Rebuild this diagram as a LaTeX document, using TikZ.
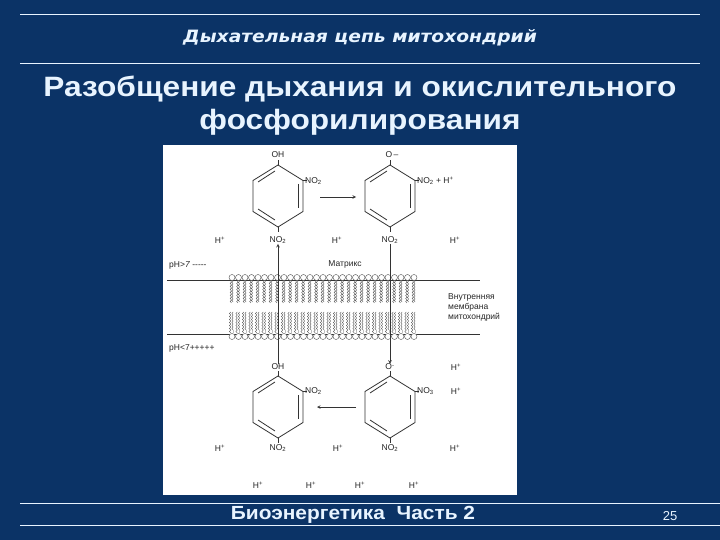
\documentclass[tikz,border=0pt]{standalone}
\usepackage{fontspec}
\setmainfont{Liberation Sans}
\newfontfamily\hb{Liberation Sans Bold}
\newfontfamily\hbi{DejaVu Sans Bold Oblique}
\usetikzlibrary{decorations.pathmorphing}
\definecolor{bg}{HTML}{0B3366}
\definecolor{fg}{HTML}{E8F4FF}
\newcommand{\Hp}{H\textsuperscript{+}}
\newcommand{\Nt}{NO\textsubscript{2}}
\begin{document}
\begin{tikzpicture}[x=1pt,y=-1pt,
  lbl/.style={font=\fontsize{8.5}{10}\selectfont,inner sep=0pt,text=black!85},
  ring/.style={draw=black!80,line width=0.8pt},
  arr/.style={draw=black!80,line width=0.6pt,-stealth}]
\fill[bg] (0,0) rectangle (720,540);
\useasboundingbox (0,0) rectangle (720,540);
\draw[fg,line width=0.8pt] (20,14) -- (700,14) (20,63) -- (700,63);
\draw[fg,line width=0.8pt] (20,503) -- (720,503) (20,525) -- (720,525);
\node[text=fg,font=\fontsize{17}{18}\selectfont\hbi,xscale=1.1] (hdr) at (360,38) {Дыхательная цепь митохондрий};
\node[text=fg,font=\fontsize{28}{33}\selectfont\hb,align=center,xscale=1.13] (ttl) at (360,106) {Разобщение дыхания и окислительного\\фосфорилирования};
\node[text=fg,font=\fontsize{19}{19}\selectfont\hb,xscale=1.1] (ftr) at (353,515) {Биоэнергетика\ \ Часть 2};
\node[text=fg,font=\fontsize{13}{14}\selectfont] (pg) at (670,516) {25};
% figure
\fill[white] (163,145) rectangle (517,495);
% membrane
\draw[black!80,line width=0.7pt] (167,280) -- (480,280) (167,334) -- (480,334);
\foreach \i in {0,...,28}{
  \pgfmathsetmacro\xx{232+6.5*\i}
  \draw[black!70,line width=0.4pt,fill=white] (\xx,277.5) circle (3);
  \draw[black!70,line width=0.4pt,fill=white] (\xx,336.5) circle (3);
  \draw[black!70,line width=0.35pt,decorate,decoration={snake,amplitude=0.7pt,segment length=3pt}] (\xx-1.2,281) -- (\xx-1.2,302) (\xx+1.2,281) -- (\xx+1.2,302) (\xx-1.2,312) -- (\xx-1.2,333) (\xx+1.2,312) -- (\xx+1.2,333);
}
% rings
\foreach \cx/\cy/\nm in {278/196/a,390/196/b,278/407/c,390/407/d}{
  \draw[ring] (\cx,\cy-31) -- (\cx+25,\cy-15.5) -- (\cx+25,\cy+15.5) -- (\cx,\cy+31) -- (\cx-25,\cy+15.5) -- (\cx-25,\cy-15.5) -- cycle;
  \draw[ring] (\cx-3,\cy-25) -- (\cx-20,\cy-14);
  \draw[ring] (\cx+20,\cy-12) -- (\cx+20,\cy+12);
  \draw[ring] (\cx-20,\cy+13) -- (\cx-3,\cy+24);
  \draw[ring] (\cx,\cy-31) -- (\cx,\cy-36) (\cx,\cy+31) -- (\cx,\cy+36) (\cx+25,\cy-15.5) -- (\cx+29,\cy-15.5);
  \coordinate (\nm) at (\cx,\cy);
}
% upper labels
\node[lbl] (oh1) at (278,155) {OH};
\node[lbl] (om1) at (392,155) {O\,–};
\node[lbl,anchor=west] (n1) at (305,181) {\Nt};
\node[lbl,anchor=west] (n2) at (417,181) {\Nt{} + \Hp};
\node[lbl] (n3) at (278,240) {\Nt};
\node[lbl] (n4) at (390,240) {\Nt};
\node[lbl] (h1) at (220,240) {\Hp};
\node[lbl] (h2) at (337,240) {\Hp};
\node[lbl] (h3) at (455,240) {\Hp};
\node[lbl,anchor=west] (ph1) at (169,265) {pH>\textit{7} -{}-{}-{}-{}-};
\node[lbl] (mx) at (345,264) {Матрикс};
\node[lbl,anchor=west,align=left] (mem) at (448,307) {Внутренняя\\мембрана\\митохондрий};
\node[lbl,anchor=west] (ph2) at (169,348) {pH<7+++++};
% lower labels
\node[lbl] (oh2) at (278,367) {OH};
\node[lbl] (om2) at (390,367) {O\textsuperscript{-}};
\node[lbl] (h4) at (456,367) {\Hp};
\node[lbl,anchor=west] (n5) at (305,391) {\Nt};
\node[lbl,anchor=west] (n6) at (417,391) {NO\textsubscript{3}};
\node[lbl] (h5) at (456,391) {\Hp};
\node[lbl] (h6) at (220,448) {\Hp};
\node[lbl] (n7) at (278,448) {\Nt};
\node[lbl] (h7) at (338,448) {\Hp};
\node[lbl] (n8) at (390,448) {\Nt};
\node[lbl] (h8) at (455,448) {\Hp};
\node[lbl] (h9) at (258,485) {\Hp};
\node[lbl] (h10) at (311,485) {\Hp};
\node[lbl] (h11) at (360,485) {\Hp};
\node[lbl] (h12) at (414,485) {\Hp};
% arrows
\coordinate (u1) at (320,197); \coordinate (u2) at (356,197);
\draw[arr] (u1) -- (u2);
\coordinate (l1) at (356,407); \coordinate (l2) at (317,407);
\draw[arr] (l1) -- (l2);
\draw[arr] (oh2.north) -- (n3.south);
\draw[arr] (n4.south) -- (om2.north);
\end{tikzpicture}
\end{document}
